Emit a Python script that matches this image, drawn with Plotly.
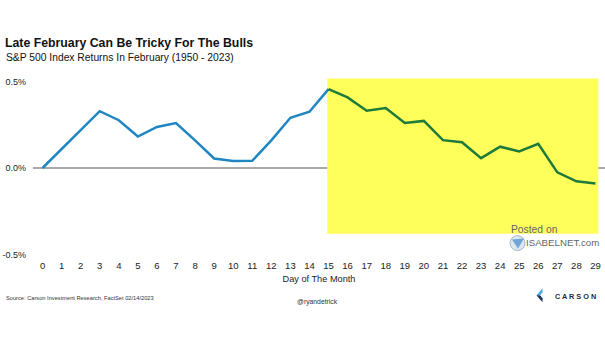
import plotly.graph_objects as go

days = list(range(30))
returns = [0.0, 0.11, 0.22, 0.328, 0.276, 0.182, 0.237, 0.26, 0.16, 0.055,
           0.04, 0.042, 0.16, 0.29, 0.325, 0.456, 0.408, 0.331, 0.347, 0.26,
           0.272, 0.161, 0.149, 0.057, 0.123, 0.096, 0.14, -0.025, -0.077, -0.09]
split_day = 15
y_ticks = [-0.5, 0.0, 0.5]
y_tick_text = ["-0.5%", "0.0%", "0.5%"]

FONT = "Liberation Sans, Arial, sans-serif"
BLUE = "#1f86c2"
GREEN = "#1d7a3a"
YELLOW = "#ffff5c"

L, R, T, B = 33, 0, 77.5, 82.5
W, H = 605, 341
def px(x):
    return (x - L) / (W - L - R)
def py(y):
    return (H - B - y) / (H - T - B)

fig = go.Figure()
fig.add_trace(go.Scatter(x=days[:split_day + 1], y=returns[:split_day + 1], mode="lines",
                         line=dict(color=BLUE, width=2.5), showlegend=False))
fig.add_trace(go.Scatter(x=days[split_day:], y=returns[split_day:], mode="lines",
                         line=dict(color=GREEN, width=2.5), showlegend=False))

shapes = [
    dict(type="rect", xref="x", yref="y", x0=14.93, x1=29.15, y0=-0.38, y1=0.517,
         fillcolor=YELLOW, line=dict(width=0), layer="below"),
    dict(type="line", xref="paper", yref="y", x0=0, x1=1, y0=0, y1=0,
         line=dict(color="#8c8c8c", width=1.5), layer="below"),
    # Carson logo chevron
    dict(type="path", xref="paper", yref="paper",
         path=f"M {px(542.5)},{py(289)} L {px(536.5)},{py(296)} L {px(540)},{py(296)} L {px(542.5)},{py(293)} Z",
         fillcolor="#4aa8e6", line=dict(width=0)),
    dict(type="path", xref="paper", yref="paper",
         path=f"M {px(536.5)},{py(296)} L {px(542.5)},{py(303)} L {px(542.5)},{py(299)} L {px(540)},{py(296)} Z",
         fillcolor="#17305c", line=dict(width=0)),
    # watermark icon
    dict(type="circle", xref="paper", yref="paper",
         x0=px(510), x1=px(525), y0=py(251), y1=py(236),
         fillcolor="#dbe6f0", line=dict(color="#aab8c6", width=1)),
    dict(type="path", xref="paper", yref="paper",
         path=f"M {px(512)},{py(240)} L {px(524)},{py(239)} L {px(518)},{py(249)} Z",
         fillcolor="#6fa6d6", line=dict(width=0)),
]

annotations = [
    dict(text="<b>Late February Can Be Tricky For The Bulls</b>", xref="paper", yref="paper",
         x=px(2.5), y=py(42), xanchor="left", yanchor="middle", showarrow=False,
         font=dict(family=FONT, size=12.3, color="#111111")),
    dict(text="S&P 500 Index Returns In February (1950 - 2023)", xref="paper", yref="paper",
         x=px(4), y=py(57), xanchor="left", yanchor="middle", showarrow=False,
         font=dict(family=FONT, size=10.3, color="#111111")),
    dict(text="Source: Carson Investment Research, FactSet 02/14/2023", xref="paper", yref="paper",
         x=px(3.5), y=py(299), xanchor="left", yanchor="middle", showarrow=False,
         font=dict(family=FONT, size=5.7, color="#333333")),
    dict(text="@ryandetrick", xref="paper", yref="paper",
         x=px(317.5), y=py(303), xanchor="center", yanchor="middle", showarrow=False,
         font=dict(family=FONT, size=6.8, color="#333333")),
    dict(text="<b>C A R S O N</b>", xref="paper", yref="paper",
         x=px(552.5), y=py(297.5), xanchor="left", yanchor="middle", showarrow=False,
         font=dict(family=FONT, size=7.3, color="#1b2a48")),
    dict(text="Posted on", xref="paper", yref="paper",
         x=px(534), y=py(230), xanchor="center", yanchor="middle", showarrow=False,
         font=dict(family=FONT, size=10.3, color="#666666")),
    dict(text="ISABELNET.com", xref="paper", yref="paper",
         x=px(601), y=py(243), xanchor="right", yanchor="middle", showarrow=False,
         font=dict(family=FONT, size=9.7, color="#666666")),
]

fig.update_layout(
    width=W, height=H,
    margin=dict(l=L, r=R, t=T, b=B),
    paper_bgcolor="white", plot_bgcolor="white",
    font=dict(family=FONT, color="#222222"),
    shapes=shapes, annotations=annotations,
    xaxis=dict(range=[-0.5, 29.5], tickmode="array", tickvals=days,
               ticktext=[str(d) for d in days], showgrid=False, zeroline=False,
               showline=False, ticks="", tickfont=dict(size=9.5, color="#222222"),
               title=dict(text="Day of The Month", font=dict(size=9.2, color="#222222"), standoff=6)),
    yaxis=dict(range=[-0.52, 0.52], tickmode="array", tickvals=y_ticks, ticktext=y_tick_text,
               showgrid=False, zeroline=False, showline=False, ticks="",
               tickfont=dict(size=9, color="#222222"), ticklabelstandoff=6),
)

fig.write_html("out.html")
